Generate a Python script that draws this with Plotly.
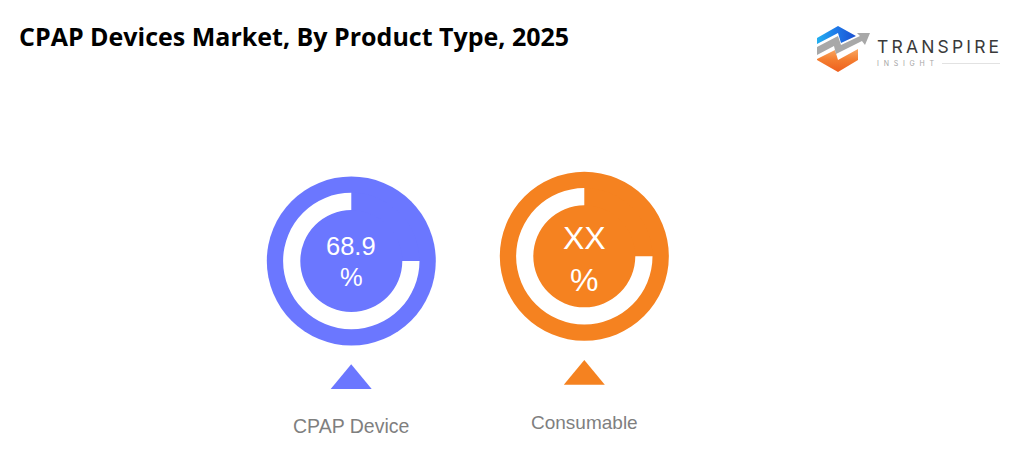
import plotly.graph_objects as go

W = 1015
H = 450

# chart data
categories = ["CPAP Device", "Consumable"]
center_lines = [("68.9", "%"), ("XX", "%")]
colors = ["#6B77FF", "#F58220"]
ring_filled = [75, 75]
ring_empty = [25, 25]

# pixel layout, x / y of each disc centre
centers = [(351.3, 261.0), (584.3, 256.3)]
R_DISC = 84.5
R_RING = 68.2
R_HOLE = 51.0
tri_tops = [(351.2, 364.3), (584.3, 360.0)]


def px(x):
    return x / W


def py(y):
    return 1 - y / H


def domain(cx, cy, r):
    return dict(x=[px(cx - r), px(cx + r)], y=[py(cy + r), py(cy - r)])


def poly(points, color):
    path = "M " + " L ".join(f"{px(x):.5f},{py(y):.5f}" for x, y in points) + " Z"
    return dict(type="path", path=path, xref="paper", yref="paper",
                fillcolor=color, line=dict(width=0), layer="above")


def label(x, y, text, size, color, family="Liberation Sans", anchor="center"):
    return dict(x=px(x), y=py(y), xref="paper", yref="paper", text=text, showarrow=False,
                xanchor=anchor, yanchor="middle",
                font=dict(family=family, size=size, color=color))


def logo_piece(points, kind, scale):
    xs, ys = zip(*points)
    return go.Scatter(x=list(xs) + [xs[0]], y=list(ys) + [ys[0]], mode="lines", line=dict(width=0),
                      fill="toself", fillgradient=dict(type=kind, colorscale=scale),
                      hoverinfo="skip", showlegend=False)


fig = go.Figure()

for i, name in enumerate(categories):
    cx, cy = centers[i]
    fig.add_trace(go.Pie(values=[1], labels=[name], marker=dict(colors=[colors[i]], line=dict(width=0)),
                         domain=domain(cx, cy, R_DISC), textinfo="none", hoverinfo="label",
                         sort=False, showlegend=False))
    # gap sits between 12 and 3 o'clock, white ring takes the rest
    fig.add_trace(go.Pie(values=[ring_empty[i], ring_filled[i]], labels=["rest", "filled"],
                         marker=dict(colors=[colors[i], "#FFFFFF"], line=dict(width=0)),
                         hole=R_HOLE / R_RING, rotation=0, direction="clockwise", sort=False,
                         domain=domain(cx, cy, R_RING), textinfo="none", hoverinfo="skip",
                         showlegend=False))

# logo hexagon, blue half on top and orange half below
fig.add_trace(logo_piece([(817, 38), (838, 26), (856, 36), (841, 43), (838, 33), (817, 44)],
                         "horizontal", [[0, "#22B0F0"], [0.5, "#1E78E8"], [1, "#1A4FD0"]]))
fig.add_trace(logo_piece([(817, 59), (835, 50), (838, 60), (858, 49), (858, 60), (838, 72), (817, 60)],
                         "vertical", [[0, "#EE5F1E"], [0.55, "#F47E30"], [1, "#F9A964"]]))

shapes = []
for i, (tx, ty) in enumerate(tri_tops):
    shapes.append(poly([(tx - 20.5, ty + 24.7), (tx, ty), (tx + 20.5, ty + 24.7)], colors[i]))

shapes += [
    poly([(817, 47), (838, 36), (841, 45), (860, 36), (857, 33), (870, 33), (865, 45), (862, 41),
          (836, 54), (834, 46), (817, 55)], "#A8A8A8"),
    dict(type="line", xref="paper", yref="paper", x0=px(942), x1=px(1000), y0=py(63.5), y1=py(63.5),
         line=dict(color="#E2E2E2", width=1)),
]

gap = "\u2002\u2009"
annotations = [
    label(17, 36, "<b>CPAP Devices Market, By Product Type, 2025</b>", 25, "#000000", "Open Sans", "left"),
    label(875, 46.5, "\u2009".join("TRANSPIRE"), 17.5, "#3A3A3A", "Inter", "left"),
    label(875, 63.5, gap.join("INSIGHT"), 7, "#A6A6A6", "Inter", "left"),
    label(351, 246, center_lines[0][0], 25.5, "#FFFFFF"),
    label(351, 277, center_lines[0][1], 25.5, "#FFFFFF"),
    label(584.5, 238, center_lines[1][0], 32, "#FFFFFF"),
    label(584, 280, center_lines[1][1], 32, "#FFFFFF"),
    label(351.3, 426, categories[0], 19.5, "#7F7F7F"),
    label(584, 422, categories[1], 19, "#7F7F7F"),
]

fig.update_layout(
    width=W,
    height=H,
    margin=dict(l=0, r=0, t=0, b=0),
    paper_bgcolor="#FFFFFF",
    plot_bgcolor="#FFFFFF",
    showlegend=False,
    xaxis=dict(visible=False, range=[0, W], fixedrange=True),
    yaxis=dict(visible=False, range=[H, 0], fixedrange=True),
    shapes=shapes,
    annotations=annotations,
)

fig.write_html("out.html", post_script="document.body.style.margin = '0';",
               config=dict(displayModeBar=False))
